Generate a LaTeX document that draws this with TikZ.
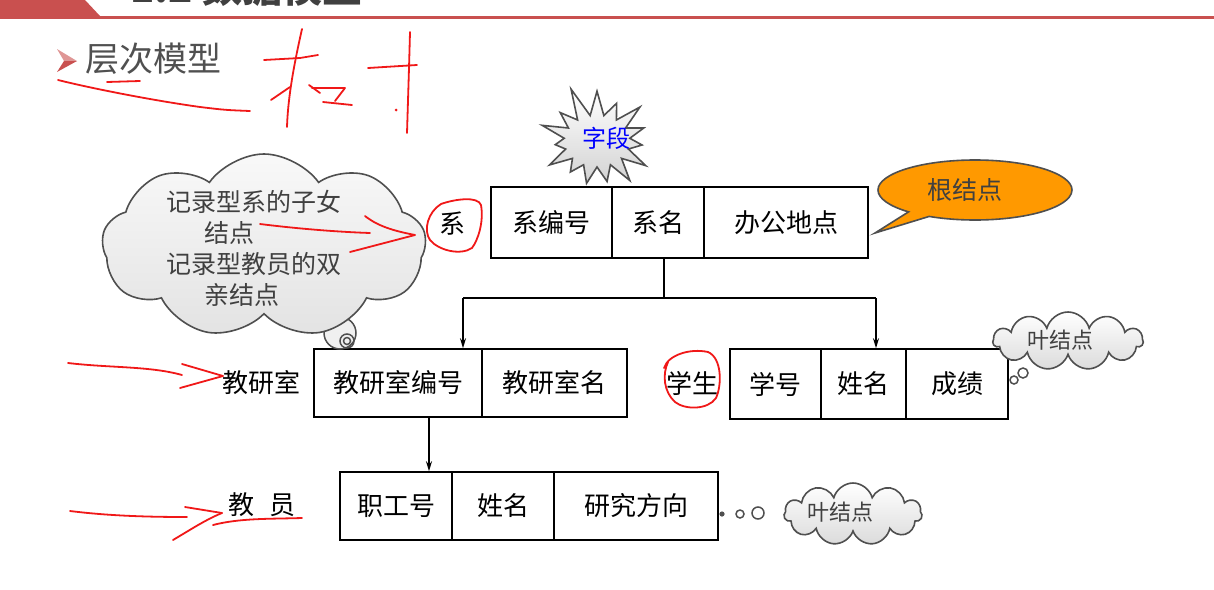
\documentclass[tikz,border=0pt]{standalone}
\usepackage{fontspec}
\newfontfamily\cjk{Noto Sans CJK SC}
\usetikzlibrary{shapes.symbols,shapes.callouts,arrows.meta,calc}
\definecolor{band}{HTML}{C9504F}
\definecolor{ink}{HTML}{F01818}
\definecolor{edge}{HTML}{4F4F4F}
\definecolor{talk}{HTML}{404040}
\definecolor{orng}{HTML}{FF9900}
\definecolor{heading}{HTML}{505050}
\begin{document}
\begin{tikzpicture}[x=1pt,y=-1pt,
  cell/.style={draw=black,line width=1.6pt,inner sep=0pt,
    font=\cjk\fontsize{26}{26}\selectfont},
  tagtext/.style={inner sep=0pt,font=\cjk\fontsize{26}{26}\selectfont},
  link/.style={draw=black,line width=1.4pt},
  tip/.style={-{Stealth[length=10pt,width=6pt]}},
  puff/.style={cloud,cloud puffs=11,cloud ignores aspect,draw=edge,
    line width=1.6pt,top color=white,bottom color=gray!28,inner sep=0pt},
  ring/.style={draw=edge,line width=1.5pt},
  scrawl/.style={draw=ink,line width=1.8pt,line cap=round,line join=round},
  talktext/.style={inner sep=0pt,text=talk},
]
\useasboundingbox (0,0) rectangle (1214,589);
\clip (0,0) rectangle (1214,589);

% header band and rule
\fill[band] (0,0) -- (85,0) -- (100,16) -- (0,16) -- cycle;
\fill[band] (0,16) rectangle (1214,18.5);
\node[anchor=base west,inner sep=0pt,text=talk,
  font=\cjk\bfseries\fontsize{40}{40}\selectfont] (title) at (130,2) {1.2 数据模型};

% bullet and section heading
\fill[band!60!white] (57,49) -- (77,61) -- (64,61) -- cycle;
\fill[band] (64,61) -- (77,61) -- (57,72) -- cycle;
\node[anchor=west,inner sep=0pt,text=heading,
  font=\cjk\fontsize{34}{34}\selectfont] (sec) at (85,59) {层次模型};

% starburst label (behind the root record)
\node[starburst,starburst points=15,starburst point height=32pt,random starburst=11,
  minimum width=130pt,minimum height=116pt,draw=edge,line width=1.6pt,
  top color=white,bottom color=gray!35,inner sep=0pt] (burst) at (597,141) {};
\node[inner sep=0pt,text=blue,font=\cjk\fontsize{24}{24}\selectfont] (zd) at (606,138) {字段};

% root record: 系
\node[cell,fill=white,minimum width=121pt,minimum height=71pt] (xbh) at (551.5,222.5) {系编号};
\node[cell,fill=white,minimum width=92pt,minimum height=71pt]  (xm)  at (658,222.5) {系名};
\node[cell,fill=white,minimum width=164pt,minimum height=71pt] (bgdd) at (786,222.5) {办公地点};
\node[tagtext] (xi) at (452,224) {系};

% child record: 教研室
\node[cell,minimum width=168pt,minimum height=68pt] (jysbh) at (398,383) {教研室编号};
\node[cell,minimum width=145pt,minimum height=68pt] (jysm)  at (554.5,383) {教研室名};
\node[tagtext] (jys) at (261,383) {教研室};

% child record: 学生
\node[cell,minimum width=91pt,minimum height=70pt]  (xh)   at (775.5,384) {学号};
\node[cell,minimum width=85pt,minimum height=70pt]  (xsxm) at (863.5,384) {姓名};
\node[cell,minimum width=102pt,minimum height=70pt] (cj)   at (957,384) {成绩};
\node[tagtext] (xs) at (692,383) {学生};

% grandchild record: 教员
\node[cell,minimum width=112pt,minimum height=68pt] (zgh)  at (396,506) {职工号};
\node[cell,minimum width=102pt,minimum height=68pt] (jyxm) at (503,506) {姓名};
\node[cell,minimum width=164pt,minimum height=68pt] (yjfx) at (636,506) {研究方向};
\node[tagtext] (jy) at (262,505) {教\hspace{16pt}员};

% tree connectors
\coordinate (j)  at (664,298);
\coordinate (jl) at (463,298);
\coordinate (jr) at (876,298);
\coordinate (k)  at (429,0);
\draw[link] (xm.south -| j) -- (j);
\draw[link] (jl) -- (jr);
\draw[link,tip] (jl) -- (jysbh.north -| jl);
\draw[link,tip] (jr) -- (xsxm.north -| jr);
\draw[link,tip] (jysbh.south -| k) -- (zgh.north -| k);

% orange speech bubble
\node[ellipse callout,callout absolute pointer={(875,233)},fill=orng,draw=edge,
  line width=1.6pt,minimum width=194pt,minimum height=60pt,inner sep=0pt] (root) at (975,190) {};
\node[talktext,font=\cjk\fontsize{25}{25}\selectfont] (rootl) at (965,190) {根结点};

% large thought cloud
\draw[ring,fill=gray!12] (340,333) circle (16pt);
\draw[ring] (347,341) circle (7pt);
\draw[ring] (347,341) circle (3.5pt);
\node[puff,cloud puffs=9,cloud puff arc=110,top color=gray!5,bottom color=gray!22,
  minimum width=324pt,minimum height=184pt] (big) at (264,246) {};
\node[talktext,align=left,font=\cjk\fontsize{25}{31}\selectfont,anchor=north west] (bigl) at (166,190)
  {记录型系的子女\\\hspace{38pt}结点\\记录型教员的双\\\hspace{38pt}亲结点};

% leaf cloud beside 学生
\draw[ring,fill=white] (1023,373) circle (5pt);
\draw[ring,fill=white] (1014,380) circle (4pt);
\node[puff,minimum width=150pt,minimum height=58pt] (leafa) at (1068,341) {};
\node[talktext,font=\cjk\fontsize{22}{22}\selectfont] (leafal) at (1060,340) {叶结点};

% leaf cloud beside 教员
\fill[edge] (722,514) circle (2.6pt);
\draw[ring] (740,514) circle (4pt);
\draw[ring] (758,513) circle (6pt);
\node[puff,minimum width=138pt,minimum height=62pt] (leafb) at (853,514) {};
\node[talktext,font=\cjk\fontsize{22}{22}\selectfont] (leafbl) at (840,512) {叶结点};

% handwritten red annotations
\draw[scrawl] (58,80) .. controls (90,88) and (150,100) .. (200,107) .. controls (225,110) .. (250,111);
\draw[scrawl] (107,82) -- (140,81);
\draw[scrawl] (302,29) .. controls (295,60) and (288,95) .. (287,127);
\draw[scrawl] (264,60) -- (300,58) -- (318,55);
\draw[scrawl] (290,87) -- (271,100);
\draw[scrawl] (309,85) -- (320,93);
\draw[scrawl] (312,88) -- (345,88) -- (335,101);
\draw[scrawl] (323,102) -- (352,105);
\draw[scrawl] (368,68) -- (417,65);
\draw[scrawl] (410,32) .. controls (409,70) and (408,100) .. (407,133);
\fill[ink] (396,110) circle (1.5pt);

\draw[scrawl] (260,224) .. controls (300,229) and (340,232) .. (370,233);
\draw[scrawl] (365,216) .. controls (380,228) and (400,232) .. (415,235) -- (350,252);
\draw[scrawl] (441,204) .. controls (455,199) and (478,196) .. (481,205)
  .. controls (484,222) and (478,240) .. (472,248) .. controls (460,256) and (438,250) .. (430,240)
  .. controls (423,230) and (428,212) .. (441,204);

\draw[scrawl] (68,363) .. controls (110,368) and (150,366) .. (182,375);
\draw[scrawl] (182,364) -- (223,376) -- (180,388);

\draw[scrawl] (70,511) .. controls (110,516) and (150,517) .. (187,517);
\draw[scrawl] (185,507) -- (222,513);
\draw[scrawl] (173,540) .. controls (190,530) and (205,520) .. (222,513);
\draw[scrawl] (213,525) .. controls (240,518) and (270,519) .. (302,518);

\draw[scrawl] (664,368) .. controls (668,355) and (690,348) .. (708,352)
  .. controls (722,358) and (722,385) .. (716,398) .. controls (708,410) and (685,410) .. (675,402)
  .. controls (664,392) and (662,375) .. (668,362);
\end{tikzpicture}
\end{document}
